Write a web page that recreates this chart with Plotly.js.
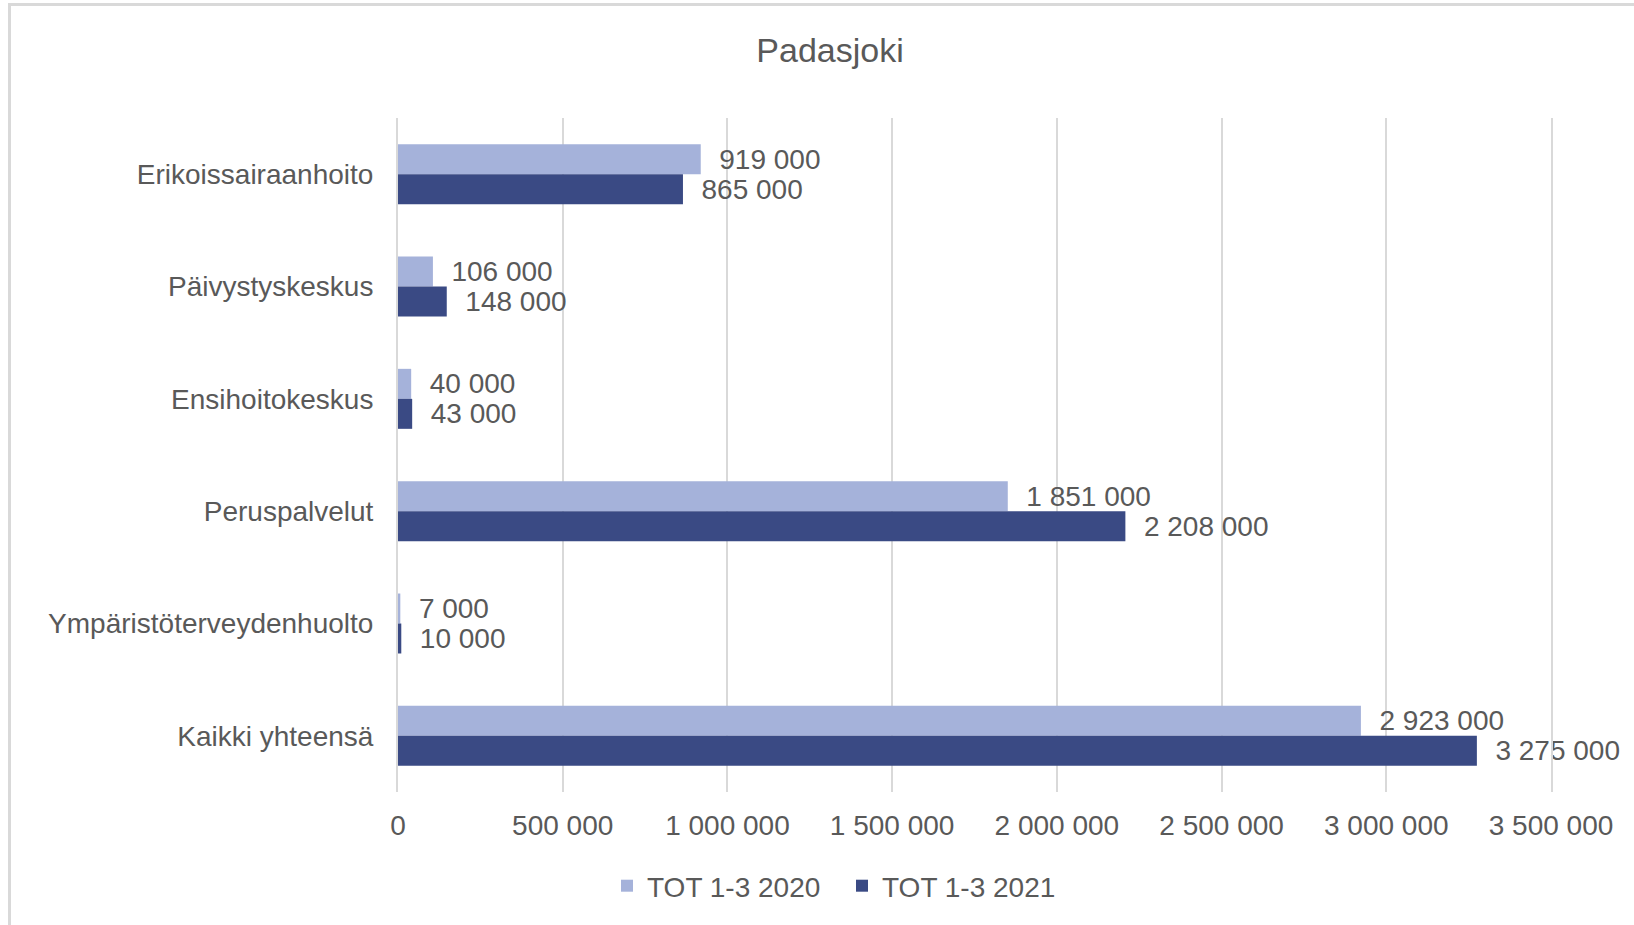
<!DOCTYPE html>
<html>
<head>
<meta charset="utf-8">
<script src="https://cdn.plot.ly/plotly-3.0.1.min.js"></script>
<style>
  html, body { margin: 0; padding: 0; background: #ffffff; overflow: hidden; }
  #frame { position: absolute; left: 8px; top: 3px; width: 1700px; height: 1000px;
           border-left: 3px solid #D9D9D9; border-top: 3px solid #D9D9D9; box-sizing: border-box; }
  #chart { position: absolute; left: 0; top: 0; width: 1634px; height: 925px; }
</style>
</head>
<body>
<div id="frame"></div>
<div id="chart"></div>
<script>
const chartTitle = "Padasjoki";
const categories = ["Erikoissairaanhoito", "Päivystyskeskus", "Ensihoitokeskus", "Peruspalvelut", "Ympäristöterveydenhuolto", "Kaikki yhteensä"];
const seriesNames = ["TOT 1-3 2020", "TOT 1-3 2021"];
const values2020 = [919000, 106000, 40000, 1851000, 7000, 2923000];
const values2021 = [865000, 148000, 43000, 2208000, 10000, 3275000];
const xTickValues = [0, 500000, 1000000, 1500000, 2000000, 2500000, 3000000, 3500000];

const FONT = '"Liberation Sans", Arial, sans-serif';
const GREY = '#595959';
const GRID = '#D9D9D9';

function barTrace(name, vals, color) {
  return {
    type: 'bar',
    orientation: 'h',
    name: name,
    y: categories,
    x: vals,
    marker: { color: color, line: { width: 0 } },
    texttemplate: '\u00a0\u00a0%{x:,}',
    textposition: 'outside',
    constraintext: 'none',
    cliponaxis: false,
    textfont: { family: FONT, size: 28, color: GREY },
    hoverinfo: 'x+y'
  };
}

const data = [
  barTrace(seriesNames[0], values2020, '#A5B2DA'),
  barTrace(seriesNames[1], values2021, '#3A4A84')
];

const layout = {
  width: 1634,
  height: 925,
  margin: { l: 398, r: 83, t: 118, b: 133, pad: 0 },
  paper_bgcolor: 'rgba(0,0,0,0)',
  plot_bgcolor: 'rgba(0,0,0,0)',
  separators: ', ',
  font: { family: FONT, size: 28, color: GREY },
  title: {
    text: chartTitle,
    font: { family: FONT, size: 34, color: GREY },
    xref: 'container', x: 0.508, xanchor: 'center',
    yref: 'container', y: 1 - 50 / 925, yanchor: 'middle'
  },
  barmode: 'group',
  bargap: 0.466,
  bargroupgap: 0,
  xaxis: {
    range: [0, 3500000],
    tickvals: xTickValues,
    tickformat: ',',
    showgrid: true,
    gridcolor: GRID,
    gridwidth: 2,
    zeroline: false,
    showline: false,
    ticks: '',
    ticklabelstandoff: 14,
    tickfont: { family: FONT, size: 28, color: GREY },
    fixedrange: true
  },
  yaxis: {
    autorange: 'reversed',
    type: 'category',
    showgrid: false,
    zeroline: false,
    showline: true,
    mirror: true,
    linecolor: GRID,
    linewidth: 2,
    ticks: '',
    ticklabelstandoff: 17,
    tickfont: { family: FONT, size: 28, color: GREY },
    fixedrange: true
  },
  showlegend: true,
  legend: {
    orientation: 'h',
    xref: 'container', x: 0.5153, xanchor: 'center',
    yref: 'container', y: 1 - 886 / 925, yanchor: 'middle',
    font: { family: FONT, size: 28, color: GREY },
    itemwidth: 30,
    entrywidth: 190,
    traceorder: 'normal',
    bgcolor: 'rgba(0,0,0,0)'
  }
};

Plotly.newPlot('chart', data, layout, { displayModeBar: false, staticPlot: true });
</script>
</body>
</html>
